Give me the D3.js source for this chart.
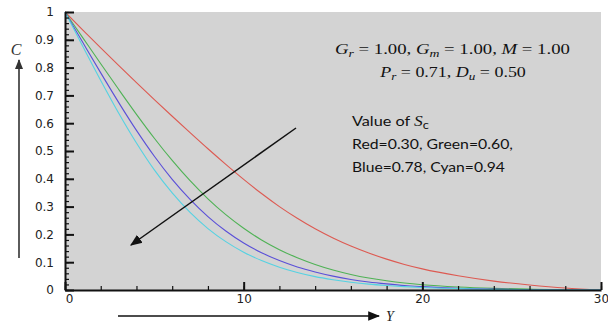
<!DOCTYPE html>
<html>
<head>
<meta charset="utf-8">
<script src="https://cdn.jsdelivr.net/npm/d3@7/dist/d3.min.js"></script>
<style>
  html, body { margin: 0; padding: 0; background: #fff; }
  svg { display: block; }
</style>
</head>
<body>
<svg id="chart" width="608" height="324"></svg>
<script>
// Concentration profiles C(Y) for four Schmidt numbers
const yValues = [0, 1, 2, 3, 4, 5, 6, 7, 8, 9, 10, 11, 12, 13, 14, 15, 16, 17, 18, 19, 20, 22, 24, 26, 28, 30];

const red = [1.0, 0.935, 0.871, 0.808, 0.746, 0.685, 0.625, 0.566, 0.508, 0.452, 0.398, 0.347, 0.3, 0.258, 0.22, 0.187, 0.158, 0.133, 0.111, 0.092, 0.076, 0.051, 0.032, 0.018, 0.007, 0];
const green = [1.0, 0.907, 0.814, 0.722, 0.632, 0.546, 0.466, 0.393, 0.328, 0.271, 0.222, 0.18, 0.145, 0.116, 0.092, 0.072, 0.056, 0.043, 0.033, 0.025, 0.019, 0.011, 0.006, 0.003, 0.001, 0];
const blue = [1.0, 0.89, 0.781, 0.675, 0.574, 0.481, 0.398, 0.326, 0.264, 0.212, 0.169, 0.134, 0.106, 0.083, 0.065, 0.05, 0.038, 0.029, 0.022, 0.016, 0.012, 0.006, 0.003, 0.001, 0, 0];
const cyan = [1.0, 0.876, 0.754, 0.637, 0.529, 0.432, 0.349, 0.279, 0.221, 0.174, 0.136, 0.106, 0.082, 0.063, 0.048, 0.037, 0.028, 0.021, 0.016, 0.012, 0.009, 0.005, 0.002, 0.001, 0, 0];

const seriesNames = ["Red", "Green", "Blue", "Cyan"];
const seriesValues = [red, green, blue, cyan];
const seriesColors = ["#dd5a52", "#4fb255", "#5a4fd8", "#55d2e2"];

const xTicks = [0, 10, 20, 30];
const yTicks = [0, 0.1, 0.2, 0.3, 0.4, 0.5, 0.6, 0.7, 0.8, 0.9, 1];

const svg = d3.select("#chart");
const plotLeft = 65, plotRight = 601, plotTop = 12, plotBottom = 290;

const x = d3.scaleLinear().domain([0, 30]).range([plotLeft, plotRight]);
const y = d3.scaleLinear().domain([0, 1]).range([plotBottom, plotTop]);

// stretch a text element horizontally so it spans the given width from its left edge
function fitWidth(sel, width) {
  const b = sel.node().getBBox();
  const k = width / b.width;
  sel.attr("transform", `translate(${b.x},0) scale(${k},1) translate(${-b.x},0)`);
}

// plot background
svg.append("rect")
  .attr("x", plotLeft).attr("y", plotTop)
  .attr("width", plotRight - plotLeft).attr("height", plotBottom - plotTop)
  .attr("fill", "#d3d3d3");

// curves
const line = d3.line()
  .x((d, i) => x(yValues[i]))
  .y(d => y(d))
  .curve(d3.curveMonotoneX);

seriesValues.forEach((vals, k) => {
  svg.append("path")
    .datum(vals)
    .attr("fill", "none")
    .attr("stroke", seriesColors[k])
    .attr("stroke-width", 1.1)
    .attr("d", line);
});

// minor ticks
const yMinor = d3.range(0, 1.0001, 0.02);
svg.append("g")
  .attr("transform", `translate(${plotLeft},0)`)
  .call(d3.axisLeft(y).tickValues(yMinor).tickSizeInner(-4).tickSizeOuter(0).tickFormat(""))
  .call(g => g.select(".domain").remove())
  .selectAll("line").attr("stroke", "#111").attr("stroke-width", 1.2);

const xMinor = d3.range(0, 30.001, 2);
svg.append("g")
  .attr("transform", `translate(0,${plotBottom})`)
  .call(d3.axisBottom(x).tickValues(xMinor).tickSizeInner(-4).tickSizeOuter(0).tickFormat(""))
  .call(g => g.select(".domain").remove())
  .selectAll("line").attr("stroke", "#111").attr("stroke-width", 1.2);

// major axes
const yAxis = svg.append("g")
  .attr("transform", `translate(${plotLeft},0)`)
  .call(d3.axisLeft(y).tickValues(yTicks).tickSizeInner(-9).tickSizeOuter(0).tickPadding(11)
    .tickFormat(d => d === 0 || d === 1 ? d3.format("d")(d) : d3.format(".1f")(d)));

const xAxis = svg.append("g")
  .attr("transform", `translate(0,${plotBottom})`)
  .call(d3.axisBottom(x).tickValues(xTicks).tickSizeInner(-8).tickSizeOuter(0).tickPadding(4)
    .tickFormat(d3.format("d")));

[yAxis, xAxis].forEach(g => {
  g.select(".domain").attr("stroke", "#111").attr("stroke-width", 2);
  g.selectAll(".tick line").attr("stroke", "#111").attr("stroke-width", 2);
  g.selectAll(".tick text")
    .attr("fill", "#222")
    .style("font-family", "'DejaVu Sans', sans-serif")
    .style("font-size", "12px");
});
xAxis.selectAll(".tick text").filter(d => d === 0).attr("dx", 4);

// arrow markers
const defs = svg.append("defs");
function marker(id, color, size) {
  defs.append("marker")
    .attr("id", id)
    .attr("viewBox", "0 0 10 10")
    .attr("refX", 9).attr("refY", 5)
    .attr("markerWidth", size).attr("markerHeight", size)
    .attr("markerUnits", "userSpaceOnUse")
    .attr("orient", "auto")
    .append("path")
    .attr("d", "M0,1 L10,5 L0,9 Z")
    .attr("fill", color);
}
marker("headGray", "#333", 10);
marker("headBlack", "#111", 12);

// axis direction arrows
svg.append("line")
  .attr("x1", 19).attr("y1", 258).attr("x2", 19).attr("y2", 60)
  .attr("stroke", "#333").attr("stroke-width", 1.6)
  .attr("marker-end", "url(#headGray)");
svg.append("text")
  .attr("x", 16).attr("y", 55)
  .attr("text-anchor", "middle")
  .style("font-family", "'Liberation Serif', serif")
  .style("font-style", "italic")
  .style("font-size", "16px")
  .attr("fill", "#333")
  .text("C");

svg.append("line")
  .attr("x1", 118).attr("y1", 316).attr("x2", 379).attr("y2", 316)
  .attr("stroke", "#111").attr("stroke-width", 1.4)
  .attr("marker-end", "url(#headBlack)");
svg.append("text")
  .attr("x", 390).attr("y", 321)
  .attr("text-anchor", "middle")
  .style("font-family", "'Liberation Serif', serif")
  .style("font-style", "italic")
  .style("font-size", "14px")
  .attr("fill", "#222")
  .text("Y");

// increasing Sc direction
svg.append("line")
  .attr("x1", 296).attr("y1", 128).attr("x2", 131).attr("y2", 245)
  .attr("stroke", "#111").attr("stroke-width", 1.5)
  .attr("marker-end", "url(#headBlack)");

// parameter annotations
const serif = "'Liberation Serif', 'DejaVu Serif', serif";
function mathLine(xPos, yPos, width, parts) {
  const t = svg.append("text")
    .attr("x", xPos).attr("y", yPos)
    .style("font-family", serif)
    .style("font-size", "15px")
    .attr("fill", "#111");
  parts.forEach(p => {
    const s = t.append("tspan").text(p.t);
    if (p.i) s.style("font-style", "italic");
    if (p.sub) s.attr("baseline-shift", "-3").style("font-size", "11px");
    else if (p.after) s.attr("baseline-shift", "0");
  });
  fitWidth(t, width);
}
mathLine(335, 54, 235, [
  { t: "G", i: true }, { t: "r", i: true, sub: true }, { t: " = 1.00, ", after: true },
  { t: "G", i: true }, { t: "m", i: true, sub: true }, { t: " = 1.00, ", after: true },
  { t: "M", i: true }, { t: " = 1.00" }
]);
mathLine(380, 77, 147, [
  { t: "P", i: true }, { t: "r", i: true, sub: true }, { t: " = 0.71, ", after: true },
  { t: "D", i: true }, { t: "u", i: true, sub: true }, { t: " = 0.50", after: true }
]);

const sans = "Lato, 'Open Sans', sans-serif";
const legendText = svg.append("g")
  .style("font-family", sans)
  .style("font-size", "14px")
  .attr("fill", "#111");
const title = legendText.append("text").attr("x", 352).attr("y", 126);
title.append("tspan").text("Value of ");
title.append("tspan").text("S").style("font-family", serif).style("font-style", "italic").style("font-size", "15px");
title.append("tspan").text("c").attr("baseline-shift", "-3").style("font-size", "11px");
fitWidth(title, 77);

const legendLines = [
  `${seriesNames[0]}=0.30, ${seriesNames[1]}=0.60,`,
  `${seriesNames[2]}=0.78, ${seriesNames[3]}=0.94`
];
const legendWidths = [161, 153];
legendLines.forEach((s, i) => {
  const t = legendText.append("text").attr("x", 352).attr("y", 149 + i * 23).text(s);
  fitWidth(t, legendWidths[i]);
});
</script>
</body>
</html>
